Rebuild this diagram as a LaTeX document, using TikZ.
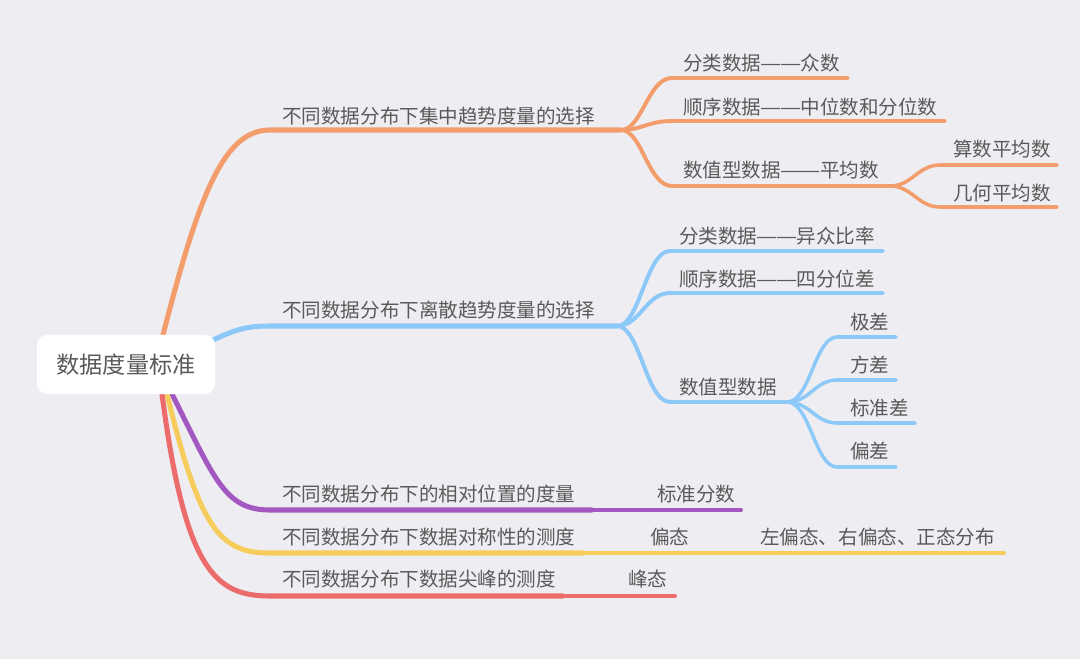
\documentclass[tikz,border=0pt]{standalone}
\usepackage{fontspec}
\setmainfont{Noto Sans CJK SC}
\definecolor{bgcol}{HTML}{EEEDF2}
\definecolor{txtcol}{HTML}{5A5A5A}
\definecolor{orangeline}{HTML}{F29D6B}
\definecolor{blueline}{HTML}{8DC9F8}
\definecolor{purpleline}{HTML}{A257C1}
\definecolor{yellowline}{HTML}{F6CC5C}
\definecolor{redline}{HTML}{EC6C6C}
\newcommand{\cjkdash}{\makebox[1em][c]{\scalebox{1.22}[1]{—}}}
\pgfdeclarelayer{background}
\pgfsetlayers{background,main}
\begin{document}
\begin{tikzpicture}[x=0.025cm,y=-0.025cm]
	\tikzstyle{topic} = [shape=rectangle, rounded corners=0.25cm, fill=white, minimum width=4.45cm, minimum height=1.475cm, text=txtcol, font=\fontsize{16.5pt}{19pt}\selectfont]
	\tikzstyle{txt} = [anchor=west, inner sep=0, text=txtcol, font=\fontsize{13.9pt}{16pt}\selectfont]
	\tikzstyle{trunk} = [line width=3.6pt, line cap=round]
	\tikzstyle{branch} = [line width=2.8pt, line cap=round]
	\tikzstyle{twig} = [line width=2.5pt, line cap=round]

	\useasboundingbox (0,0) rectangle (1080,659);
	\node [topic] (root) at (126,364.5) {数据度量标准};

	% first level
	\node [txt] (central) at (282,116) {不同数据分布下集中趋势度量的选择};
	\node [txt] (disp) at (282,310) {不同数据分布下离散趋势度量的选择};
	\node [txt] (relpos) at (282,494) {不同数据分布下的相对位置的度量};
	\node [txt] (sym) at (282,537) {不同数据分布下数据对称性的测度};
	\node [txt] (peak) at (282,579) {不同数据分布下数据尖峰的测度};

	% second level
	\node [txt] (mode) at (683,63) {分类数据\cjkdash\cjkdash 众数};
	\node [txt] (median) at (683,107) {顺序数据\cjkdash\cjkdash 中位数和分位数};
	\node [txt] (mean) at (683,170) {数值型数据\cjkdash\cjkdash 平均数};
	\node [txt] (arith) at (953,149) {算数平均数};
	\node [txt] (geom) at (953,193) {几何平均数};
	\node [txt] (varratio) at (679,236) {分类数据\cjkdash\cjkdash 异众比率};
	\node [txt] (quart) at (679,279) {顺序数据\cjkdash\cjkdash 四分位差};
	\node [txt] (numeric) at (679,387) {数值型数据};
	\foreach \t/\y [count=\i] in {极差/322,方差/365,标准差/408,偏差/451}
	{
		\node [txt] (dev\i) at (850,\y) {\t};
	}
	\node [txt] (zscore) at (657,494) {标准分数};
	\node [txt] (skew) at (650,537) {偏态};
	\node [txt] (skewkind) at (760,537) {左偏态、右偏态、正态分布};
	\node [txt] (kurt) at (628,579) {峰态};

	% line points
	\coordinate (o0) at (163,335);
	\coordinate (o1) at (270,130);
	\coordinate (o2) at (621,130);
	\coordinate (b0) at (213,340);
	\coordinate (b1) at (270,326);
	\coordinate (b2) at (617,326);
	\coordinate (p0) at (172,394);
	\coordinate (p1) at (270,510);
	\coordinate (p2) at (592,510);
	\coordinate (p3) at (741,510);
	\coordinate (y0) at (167,394);
	\coordinate (y1) at (270,553);
	\coordinate (y2) at (583,553);
	\coordinate (y3) at (695,553);
	\coordinate (y4) at (1004,553);
	\coordinate (r0) at (162,394);
	\coordinate (r1) at (270,596);
	\coordinate (r2) at (563,596);
	\coordinate (r3) at (675,596);
	\coordinate (m1) at (890,186);
	\coordinate (n1) at (787,402);

	\begin{pgfonlayer}{background}
		\fill [bgcol] (0,0) rectangle (1080,659);
		\draw [trunk, orangeline] (o0) .. controls (200,190) and (225,130) .. (o1) -- (o2);
		\draw [trunk, blueline] (b0) .. controls (235,330) and (245,326) .. (b1) -- (b2);
		\draw [trunk, purpleline] (p0) .. controls (215,480) and (225,510) .. (p1) -- (p2);
		\draw [branch, purpleline] (p2) -- (p3);
		\draw [trunk, yellowline] (y0) .. controls (200,530) and (220,553) .. (y1) -- (y2);
		\draw [branch, yellowline] (y2) -- (y3);
		\draw [branch, yellowline] (y3) -- (y4);
		\draw [trunk, redline] (r0) .. controls (185,570) and (215,596) .. (r1) -- (r2);
		\draw [branch, redline] (r2) -- (r3);

		\draw [branch, orangeline] (o2) .. controls (642,130) and (648,78) .. (672,78) -- (848,78);
		\draw [branch, orangeline] (o2) .. controls (642,130) and (648,121) .. (672,121) -- (945,121);
		\draw [branch, orangeline] (o2) .. controls (642,130) and (648,186) .. (672,186) -- (m1);
		\draw [twig, orangeline] (m1) .. controls (912,186) and (918,165) .. (940,165) -- (1057,165);
		\draw [twig, orangeline] (m1) .. controls (912,186) and (918,207) .. (940,207) -- (1057,207);

		\draw [branch, blueline] (b2) .. controls (640,326) and (646,251) .. (670,251) -- (883,251);
		\draw [branch, blueline] (b2) .. controls (640,326) and (646,293) .. (670,293) -- (883,293);
		\draw [branch, blueline] (b2) .. controls (640,326) and (646,402) .. (670,402) -- (n1);
		\foreach \y/\e in {337/896,380/896,423/915,467/896}
		{
			\draw [twig, blueline] (n1) .. controls (810,402) and (815,\y) .. (837,\y) -- (\e,\y);
		}
	\end{pgfonlayer}
\end{tikzpicture}
\end{document}
